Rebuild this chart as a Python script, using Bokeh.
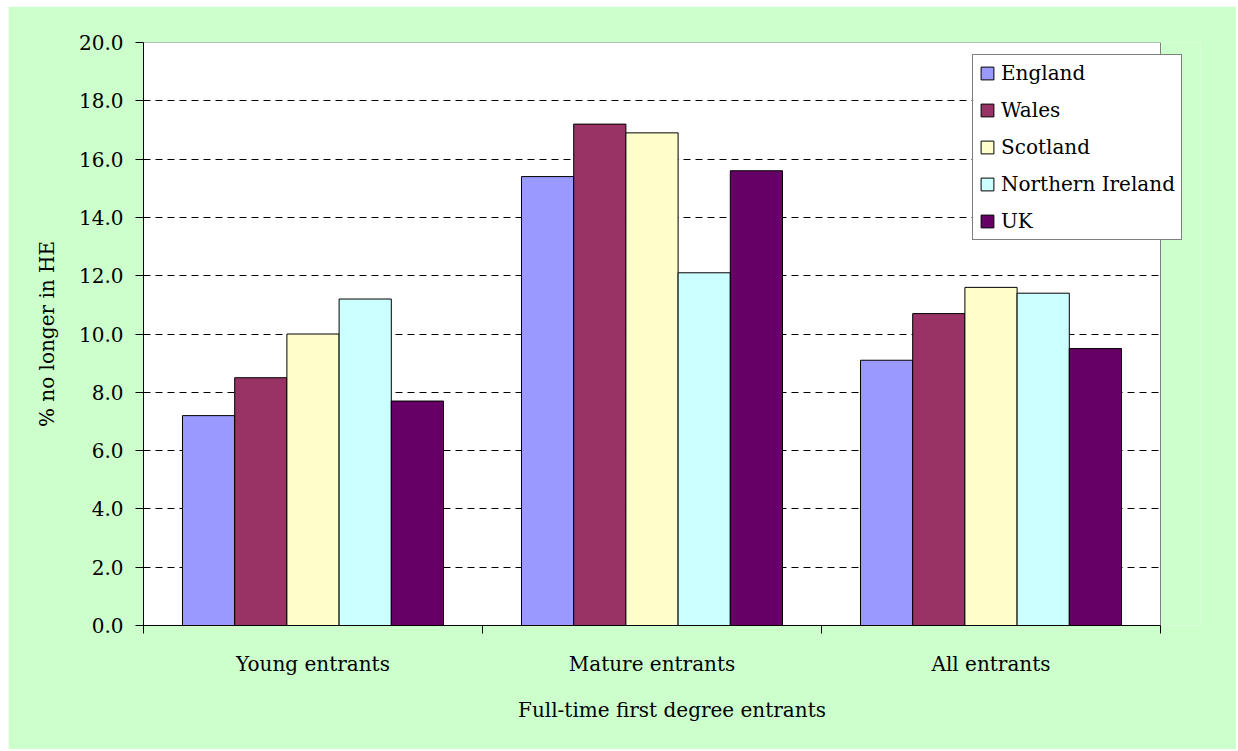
from bokeh.plotting import figure
from bokeh.models import (Range1d, LinearAxis, FixedTicker,
                          NumeralTickFormatter, Legend, LegendItem, ColumnDataSource)
from bokeh.transform import dodge
from bokeh.embed import file_html
from bokeh.resources import INLINE

categories = ["Young entrants", "Mature entrants", "All entrants"]
series = ["England", "Wales", "Scotland", "Northern Ireland", "UK"]
england = [7.2, 15.4, 9.1]
wales = [8.5, 17.2, 10.7]
scotland = [10.0, 16.9, 11.6]
northern_ireland = [11.2, 12.1, 11.4]
uk = [7.7, 15.6, 9.5]
y_ticks = [0, 2, 4, 6, 8, 10, 12, 14, 16, 18, 20]
colors = ["#9999FF", "#993366", "#FFFFCC", "#CCFFFF", "#660066"]

FONT = "DejaVu Serif"
FS = "20px"
GREEN = "#CCFFCC"

n = len(categories)
# category index -> centre of each category slot on a 0..N axis
centers = [i + 0.5 for i in range(n)]
source = ColumnDataSource(dict(pos=centers, England=england, Wales=wales, Scotland=scotland,
                               NI=northern_ireland, UK=uk))
cols = ["England", "Wales", "Scotland", "NI", "UK"]

# frame spans a little beyond the white plot area so the legend can overhang it
x_end = n * (1200 - 143) / (1160 - 143)

p = figure(x_range=Range1d(0, x_end), y_range=Range1d(0, 20),
           width=1228, height=743, output_backend="svg", toolbar_location=None,
           x_axis_location=None, min_border_left=135, min_border_right=36,
           min_border_top=36, min_border_bottom=124)
p.margin = (6, 0, 0, 8)
p.border_fill_color = GREEN
p.background_fill_color = GREEN
p.outline_line_color = None

# white plot area
p.quad(left=0, right=n, bottom=0, top=20, fill_color="white", line_color="#808080",
       line_width=1, level="image")

bw = 0.154
renderers = []
for i, (c, col) in enumerate(zip(cols, colors)):
    r = p.vbar(x=dodge("pos", (i - 2) * bw), top=c, width=bw, source=source,
               fill_color=col, line_color="black", line_width=1)
    renderers.append(r)

cat_axis = LinearAxis(ticker=FixedTicker(ticks=centers, minor_ticks=list(range(n + 1))),
                      major_label_overrides={c: lab for c, lab in zip(centers, categories)},
                      bounds=(0, n),
                      major_tick_out=0, major_tick_in=0, minor_tick_out=8, minor_tick_in=0,
                      minor_tick_line_color="black",
                      axis_line_color="black",
                      major_label_standoff=18,
                      major_label_text_font=FONT, major_label_text_font_size=FS,
                      major_label_text_color="black",
                      axis_label="Full-time first degree entrants",
                      axis_label_text_font=FONT, axis_label_text_font_size=FS,
                      axis_label_text_font_style="normal", axis_label_text_color="black",
                      axis_label_standoff=19)
p.add_layout(cat_axis, "below")

yax = p.yaxis[0]
yax.ticker = FixedTicker(ticks=y_ticks, minor_ticks=[])
yax.formatter = NumeralTickFormatter(format="0.0")
yax.major_tick_in = 0
yax.major_tick_out = 8
yax.minor_tick_out = 0
yax.major_label_standoff = 12
yax.major_label_text_font = FONT
yax.major_label_text_font_size = FS
yax.major_label_text_color = "black"
yax.axis_line_color = "black"
yax.axis_label = "% no longer in HE"
yax.axis_label_text_font = FONT
yax.axis_label_text_font_size = FS
yax.axis_label_text_font_style = "normal"
yax.axis_label_text_color = "black"
yax.axis_label_standoff = 17

for g in p.grid:
    if g.dimension == 0:
        g.visible = False
    else:
        g.ticker = FixedTicker(ticks=y_ticks[1:-1])
        g.cross_bounds = (0, n)
        g.grid_line_color = "black"
        g.grid_line_dash = "7 5"
        g.grid_line_width = 1

legend = Legend(items=[LegendItem(label=s, renderers=[r]) for s, r in zip(series, renderers)],
                location=(829, 385), orientation="vertical",
                label_text_font=FONT, label_text_font_size=FS, label_text_color="black",
                glyph_width=16, glyph_height=16, label_height=20, spacing=13, padding=6,
                label_standoff=6, border_line_color="black", border_line_width=1,
                background_fill_color="white", background_fill_alpha=1.0, margin=0)
p.add_layout(legend, "center")

open("out.html", "w").write(file_html(p, INLINE))
